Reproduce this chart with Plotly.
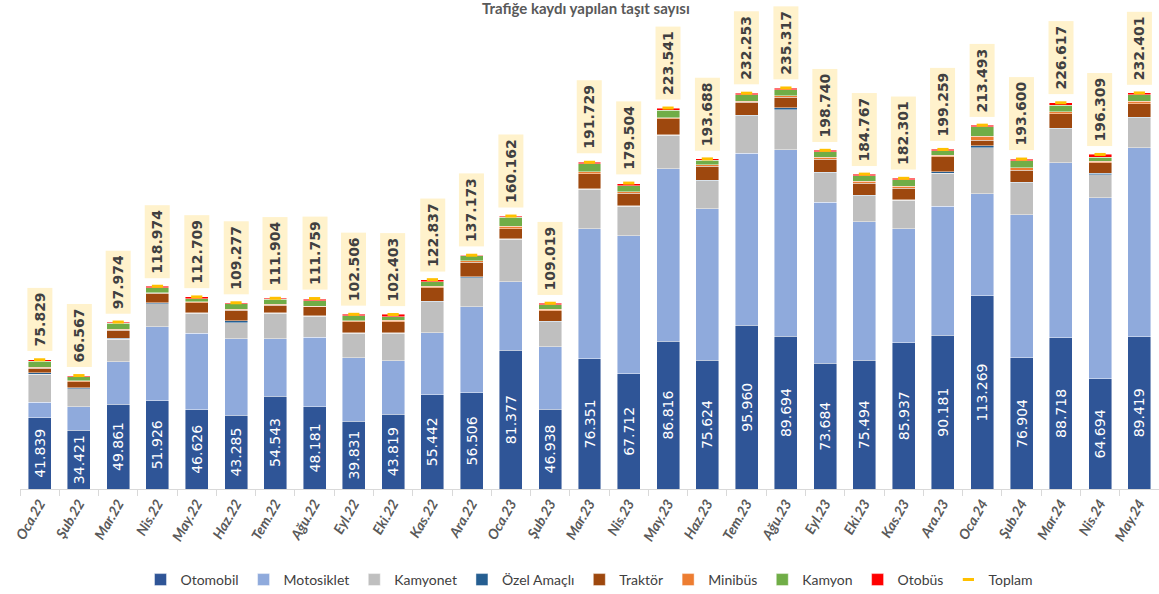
import plotly.graph_objects as go

months = ["Oca.22", "Şub.22", "Mar.22", "Nis.22", "May.22", "Haz.22", "Tem.22", "Ağu.22",
          "Eyl.22", "Eki.22", "Kas.22", "Ara.22", "Oca.23", "Şub.23", "Mar.23", "Nis.23",
          "May.23", "Haz.23", "Tem.23", "Ağu.23", "Eyl.23", "Eki.23", "Kas.23", "Ara.23",
          "Oca.24", "Şub.24", "Mar.24", "Nis.24", "May.24"]

otomobil = [41839, 34421, 49861, 51926, 46626, 43285, 54543, 48181, 39831, 43819, 55442, 56506,
            81377, 46938, 76351, 67712, 86816, 75624, 95960, 89694, 73684, 75494, 85937, 90181,
            113269, 76904, 88718, 64694, 89419]
motosiklet = [9200, 13900, 24800, 43300, 44800, 44900, 33700, 40800, 37200, 31500, 36300, 50500,
              40300, 36400, 76400, 81000, 101000, 88900, 101000, 109400, 94700, 81200, 66800, 75700,
              60000, 84100, 102800, 106300, 110900]
kamyonet = [16250, 10600, 13100, 13500, 11700, 9400, 14900, 12500, 14300, 16100, 18200, 17000,
            25000, 14900, 23100, 17100, 19900, 16400, 22100, 23500, 17200, 15400, 16800, 19400,
            27000, 18600, 19800, 13500, 17600]
ozel_amacli = [800, 500, 800, 500, 400, 1000, 300, 300, 300, 300, 300, 600,
               300, 300, 300, 300, 300, 300, 300, 1000, 300, 300, 300, 1000,
               1000, 300, 300, 800, 300]
traktor = [2700, 3600, 4500, 5500, 5800, 6400, 4400, 5200, 6500, 6500, 7900, 8400,
           5800, 6000, 8800, 7500, 9100, 8200, 7500, 6300, 7600, 7000, 6600, 8700,
           3500, 7100, 8500, 6200, 7900]
minibus = [800, 500, 600, 500, 600, 600, 700, 300, 500, 800, 800, 800,
           1500, 800, 1200, 800, 800, 700, 800, 800, 1300, 1300, 1300, 800,
           2300, 1500, 1300, 800, 1500]
kamyon = [3500, 2400, 3500, 2900, 1800, 3200, 2800, 3200, 3000, 2200, 2800, 3100,
          5100, 2700, 4700, 3500, 4300, 2800, 3700, 3500, 3000, 3200, 3700, 2600,
          5500, 4000, 3800, 2400, 3600]
otobus = [700, 600, 700, 800, 1000, 500, 600, 900, 800, 1200, 1100, 300,
          700, 1000, 800, 1300, 1300, 800, 900, 1100, 900, 900, 800, 900,
          900, 1100, 1400, 1600, 1200]
toplam = [75829, 66567, 97974, 118974, 112709, 109277, 111904, 111759, 102506, 102403, 122837, 137173,
          160162, 109019, 191729, 179504, 223541, 193688, 232253, 235317, 198740, 184767, 182301, 199259,
          213493, 193600, 226617, 196309, 232401]

series = [
    ("Otomobil", otomobil, "#2F5597"),
    ("Motosiklet", motosiklet, "#8FAADC"),
    ("Kamyonet", kamyonet, "#BFBFBF"),
    ("Özel Amaçlı", ozel_amacli, "#255E91"),
    ("Traktör", traktor, "#9E480E"),
    ("Minibüs", minibus, "#ED7D31"),
    ("Kamyon", kamyon, "#70AD47"),
    ("Otobüs", otobus, "#FF0000"),
]

fig = go.Figure()
for name, vals, color in series:
    kw = {}
    if name == "Otomobil":
        kw = dict(texttemplate="%{y:,}", textposition="inside", insidetextanchor="middle",
                  textangle=-90,
                  textfont=dict(family="DejaVu Sans", size=14, color="white"))
    fig.add_trace(go.Bar(
        name=name, x=months, y=vals,
        marker=dict(color=color, line=dict(color="rgba(255,255,255,0.55)", width=0.8)),
        hoverinfo="skip", **kw))

fig.add_trace(go.Scatter(
    name="Toplam", x=months, y=toplam, mode="markers",
    marker=dict(symbol="line-ew", size=8, color="#FFC000", line=dict(width=3, color="#FFC000")),
    hoverinfo="skip"))

for m, t in zip(months, toplam):
    fig.add_annotation(
        x=m, y=t, xref="x", yref="y", text=f"{t:,}".replace(",", "."),
        showarrow=False, textangle=-90, yanchor="bottom", xanchor="center", yshift=8,
        bgcolor="#FFF2CC", borderpad=4,
        font=dict(family="DejaVu Sans", size=14, color="#404040", weight="bold"))

fig.add_annotation(
    text="Trafiğe kaydı yapılan taşıt sayısı", xref="paper", yref="paper",
    x=0.497, y=1.0, yshift=12, xanchor="center", yanchor="middle", showarrow=False,
    font=dict(family="Lato, sans-serif", size=15, color="#595959", weight="bold"))

fig.update_layout(
    width=1159, height=594,
    barmode="stack", bargap=0.415,
    separators=",.",
    paper_bgcolor="white", plot_bgcolor="white",
    margin=dict(l=20, r=0, t=20, b=105, autoexpand=False),
    xaxis=dict(type="category", range=[-0.5, len(months) - 0.5], tickangle=-60,
               showline=True, linecolor="#D9D9D9", linewidth=1,
               ticks="outside", tickson="boundaries", ticklen=6, tickcolor="#D9D9D9",
               automargin=False,
               tickfont=dict(family="Lato, sans-serif", size=14,
                             color="#595959", weight="bold", style="italic"),
               showgrid=False),
    yaxis=dict(visible=False, range=[0, 275200], automargin=False),
    legend=dict(orientation="h", x=0.5, xanchor="center", y=-0.194, yanchor="middle",
                font=dict(family="Lato, sans-serif", size=14, color="#404040"),
                itemwidth=30, traceorder="normal"),
    showlegend=True,
)

fig.write_html("out.html", config={"displayModeBar": False},
               post_script="document.body.style.margin='0';")
